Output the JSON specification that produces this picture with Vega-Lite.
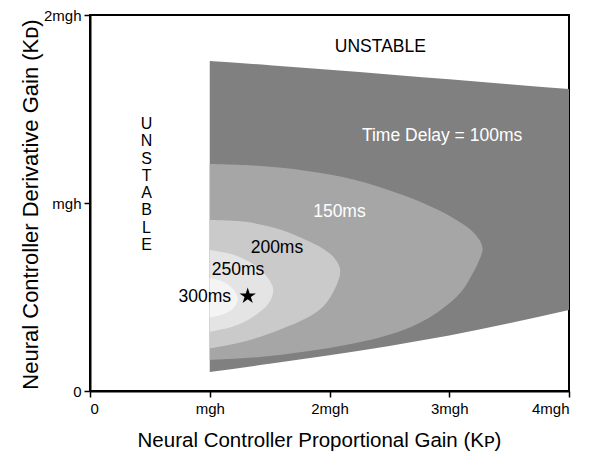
{
  "$schema": "https://vega.github.io/schema/vega-lite/v6.json",
  "width": 479,
  "height": 376,
  "autosize": {"type": "none"},
  "padding": {"left": 90, "top": 15, "right": 32, "bottom": 69},
  "config": {
    "font": "Liberation Sans",
    "view": {"stroke": "#000000", "strokeWidth": 2},
    "axis": {"grid": false, "domainColor": "#000000", "domainWidth": 2, "tickColor": "#000000", "tickWidth": 1.5, "tickSize": 6, "labelColor": "#000000", "labelFont": "Liberation Sans", "labelFontSize": 15, "titleFont": "Liberation Sans", "titleFontWeight": "normal", "titleColor": "#000000"}
  },
  "datasets": {
    "outer": [
      {"x": 1.0, "top": 1.755, "bottom": 0.101},
      {"x": 1.5, "top": 1.733, "bottom": 0.145},
      {"x": 2.0, "top": 1.709, "bottom": 0.190},
      {"x": 2.5, "top": 1.684, "bottom": 0.240},
      {"x": 3.0, "top": 1.658, "bottom": 0.295},
      {"x": 3.5, "top": 1.632, "bottom": 0.360},
      {"x": 4.0, "top": 1.606, "bottom": 0.431}
    ],
    "shapes": [
      {"delay": 150, "i": 1, "x": 1.0, "y": 1.207},
      {"delay": 150, "i": 2, "x": 1.4, "y": 1.198},
      {"delay": 150, "i": 3, "x": 1.8, "y": 1.172},
      {"delay": 150, "i": 4, "x": 2.2, "y": 1.125},
      {"delay": 150, "i": 5, "x": 2.6, "y": 1.045},
      {"delay": 150, "i": 6, "x": 2.9, "y": 0.965},
      {"delay": 150, "i": 7, "x": 3.1, "y": 0.893},
      {"delay": 150, "i": 8, "x": 3.2, "y": 0.845},
      {"delay": 150, "i": 9, "x": 3.255, "y": 0.800},
      {"delay": 150, "i": 10, "x": 3.278, "y": 0.755},
      {"delay": 150, "i": 11, "x": 3.25, "y": 0.695},
      {"delay": 150, "i": 12, "x": 3.2, "y": 0.630},
      {"delay": 150, "i": 13, "x": 3.1, "y": 0.528},
      {"delay": 150, "i": 14, "x": 2.9, "y": 0.418},
      {"delay": 150, "i": 15, "x": 2.6, "y": 0.320},
      {"delay": 150, "i": 16, "x": 2.2, "y": 0.252},
      {"delay": 150, "i": 17, "x": 1.8, "y": 0.210},
      {"delay": 150, "i": 18, "x": 1.4, "y": 0.180},
      {"delay": 150, "i": 19, "x": 1.0, "y": 0.165},
      {"delay": 200, "i": 1, "x": 1.0, "y": 0.910},
      {"delay": 200, "i": 2, "x": 1.3, "y": 0.900},
      {"delay": 200, "i": 3, "x": 1.6, "y": 0.857},
      {"delay": 200, "i": 4, "x": 1.8, "y": 0.805},
      {"delay": 200, "i": 5, "x": 1.95, "y": 0.755},
      {"delay": 200, "i": 6, "x": 2.05, "y": 0.700},
      {"delay": 200, "i": 7, "x": 2.09, "y": 0.640},
      {"delay": 200, "i": 8, "x": 2.05, "y": 0.550},
      {"delay": 200, "i": 9, "x": 1.95, "y": 0.451},
      {"delay": 200, "i": 10, "x": 1.8, "y": 0.385},
      {"delay": 200, "i": 11, "x": 1.6, "y": 0.330},
      {"delay": 200, "i": 12, "x": 1.3, "y": 0.265},
      {"delay": 200, "i": 13, "x": 1.0, "y": 0.227},
      {"delay": 250, "i": 1, "x": 1.0, "y": 0.750},
      {"delay": 250, "i": 2, "x": 1.2, "y": 0.725},
      {"delay": 250, "i": 3, "x": 1.35, "y": 0.680},
      {"delay": 250, "i": 4, "x": 1.47, "y": 0.615},
      {"delay": 250, "i": 5, "x": 1.53, "y": 0.540},
      {"delay": 250, "i": 6, "x": 1.49, "y": 0.465},
      {"delay": 250, "i": 7, "x": 1.35, "y": 0.390},
      {"delay": 250, "i": 8, "x": 1.2, "y": 0.345},
      {"delay": 250, "i": 9, "x": 1.0, "y": 0.316},
      {"delay": 300, "i": 1, "x": 1.0, "y": 0.600},
      {"delay": 300, "i": 2, "x": 1.1, "y": 0.585},
      {"delay": 300, "i": 3, "x": 1.19, "y": 0.545},
      {"delay": 300, "i": 4, "x": 1.235, "y": 0.490},
      {"delay": 300, "i": 5, "x": 1.19, "y": 0.435},
      {"delay": 300, "i": 6, "x": 1.1, "y": 0.405},
      {"delay": 300, "i": 7, "x": 1.0, "y": 0.390}
    ],
    "whiteLabels": [
      {"label": "Time Delay = 100ms", "x": 2.94, "y": 1.358},
      {"label": "150ms", "x": 2.083, "y": 0.950}
    ],
    "blackLabels": [
      {"label": "UNSTABLE", "x": 2.425, "y": 1.83},
      {"label": "200ms", "x": 1.561, "y": 0.759},
      {"label": "250ms", "x": 1.236, "y": 0.644},
      {"label": "300ms", "x": 0.958, "y": 0.500}
    ],
    "vertical": [
      {"letter": "U", "x": 0.472, "y": 1.4202},
      {"letter": "N", "x": 0.472, "y": 1.3282},
      {"letter": "S", "x": 0.472, "y": 1.2362},
      {"letter": "T", "x": 0.472, "y": 1.1441},
      {"letter": "A", "x": 0.472, "y": 1.0527},
      {"letter": "B", "x": 0.472, "y": 0.9606},
      {"letter": "L", "x": 0.472, "y": 0.8686},
      {"letter": "E", "x": 0.472, "y": 0.7766}
    ],
    "star": [
      {"x": 1.317, "y": 0.505}
    ]
  },
  "layer": [
    {
      "data": {"name": "outer"},
      "mark": {"type": "area", "color": "#808080", "interpolate": "monotone"},
      "encoding": {
        "x": {"field": "x", "type": "quantitative", "scale": {"domain": [0, 4], "nice": false},
          "axis": {"values": [0, 1, 2, 3, 4], "labelExpr": "datum.value == 0 ? '0' : datum.value == 1 ? 'mgh' : datum.value + 'mgh'", "labelPadding": 4, "title": "Neural Controller Proportional Gain (Kᴘ)", "titleFontSize": 20.5, "titleX": 229, "titleY": 55, "titleBaseline": "alphabetic"}},
        "y": {"field": "top", "type": "quantitative", "scale": {"domain": [0, 2], "nice": false},
          "axis": {"values": [0, 1, 2], "labelExpr": "datum.value == 0 ? '0' : datum.value == 1 ? 'mgh' : datum.value + 'mgh'", "labelPadding": 3, "title": "Neural Controller Derivative Gain (Kᴅ)", "titleFontSize": 22, "titleX": -53, "titleY": 189, "titleBaseline": "alphabetic"}},
        "y2": {"field": "bottom"}
      }
    },
    {
      "data": {"name": "shapes"},
      "transform": [{"filter": "datum.delay == 150"}],
      "mark": {"type": "line", "filled": true, "color": "#a6a6a6", "strokeWidth": 0, "interpolate": "catmull-rom"},
      "encoding": {
        "x": {"field": "x", "type": "quantitative"},
        "y": {"field": "y", "type": "quantitative"},
        "order": {"field": "i", "type": "quantitative"}
      }
    },
    {
      "data": {"name": "shapes"},
      "transform": [{"filter": "datum.delay == 200"}],
      "mark": {"type": "line", "filled": true, "color": "#cacaca", "strokeWidth": 0, "interpolate": "catmull-rom"},
      "encoding": {
        "x": {"field": "x", "type": "quantitative"},
        "y": {"field": "y", "type": "quantitative"},
        "order": {"field": "i", "type": "quantitative"}
      }
    },
    {
      "data": {"name": "shapes"},
      "transform": [{"filter": "datum.delay == 250"}],
      "mark": {"type": "line", "filled": true, "color": "#e4e4e4", "strokeWidth": 0, "interpolate": "catmull-rom"},
      "encoding": {
        "x": {"field": "x", "type": "quantitative"},
        "y": {"field": "y", "type": "quantitative"},
        "order": {"field": "i", "type": "quantitative"}
      }
    },
    {
      "data": {"name": "shapes"},
      "transform": [{"filter": "datum.delay == 300"}],
      "mark": {"type": "line", "filled": true, "color": "#f4f4f4", "strokeWidth": 0, "interpolate": "catmull-rom"},
      "encoding": {
        "x": {"field": "x", "type": "quantitative"},
        "y": {"field": "y", "type": "quantitative"},
        "order": {"field": "i", "type": "quantitative"}
      }
    },
    {
      "data": {"name": "whiteLabels"},
      "mark": {"type": "text", "color": "#ffffff", "fontSize": 17.5, "font": "Liberation Sans", "align": "center", "baseline": "middle"},
      "encoding": {
        "x": {"field": "x", "type": "quantitative"},
        "y": {"field": "y", "type": "quantitative"},
        "text": {"field": "label"}
      }
    },
    {
      "data": {"name": "blackLabels"},
      "mark": {"type": "text", "color": "#000000", "fontSize": 17.5, "font": "Liberation Sans", "align": "center", "baseline": "middle"},
      "encoding": {
        "x": {"field": "x", "type": "quantitative"},
        "y": {"field": "y", "type": "quantitative"},
        "text": {"field": "label"}
      }
    },
    {
      "data": {"name": "vertical"},
      "mark": {"type": "text", "color": "#000000", "fontSize": 16, "font": "Liberation Sans", "align": "center", "baseline": "middle"},
      "encoding": {
        "x": {"field": "x", "type": "quantitative"},
        "y": {"field": "y", "type": "quantitative"},
        "text": {"field": "letter"}
      }
    },
    {
      "data": {"name": "star"},
      "mark": {"type": "point", "filled": true, "color": "#000000", "opacity": 1, "size": 300, "shape": "M0,-1L0.2245,-0.309L0.951,-0.309L0.363,0.118L0.588,0.809L0,0.382L-0.588,0.809L-0.363,0.118L-0.951,-0.309L-0.2245,-0.309Z"},
      "encoding": {
        "x": {"field": "x", "type": "quantitative"},
        "y": {"field": "y", "type": "quantitative"}
      }
    }
  ]
}
